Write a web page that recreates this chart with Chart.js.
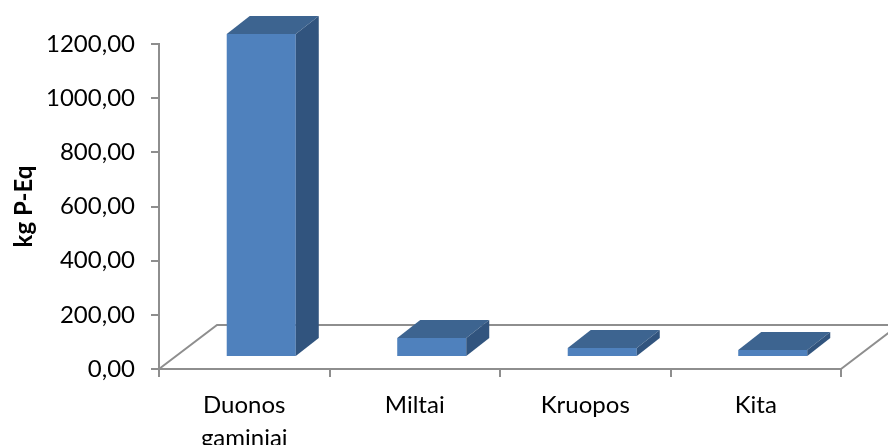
<!DOCTYPE html>
<html>
<head>
<meta charset="utf-8">
<style>
  html, body { margin: 0; padding: 0; background: #fff; }
  #wrap { width: 888px; height: 445px; overflow: hidden; }
</style>
</head>
<body>
<div id="wrap"><canvas id="chart" width="888" height="445"></canvas></div>
<script src="https://cdn.jsdelivr.net/npm/chart.js@4"></script>
<script>
const categories = [['Duonos', 'gaminiai'], 'Miltai', 'Kruopos', 'Kita'];
const values = [1193, 70, 33, 26];
const tickValues = [0, 200, 400, 600, 800, 1000, 1200];
const yTitle = 'kg P-Eq';

const AXIS_GREY = '#8e8e8e';
const FRONT = '#4f81bd';
const TOP = '#3d6490';
const SIDE = '#31547e';
const FONT = 'Lato, Carlito, Calibri, sans-serif';

// bars stand a little way in on the floor, depth goes up and to the right
const BAR_SHIFT = { x: 17, y: -12 };
const BAR_DEPTH = { x: 23, y: -18 };
const FLOOR_DEPTH = { x: 58, y: -44 };

function poly(ctx, pts, fill) {
  ctx.fillStyle = fill;
  ctx.beginPath();
  pts.forEach((p, i) => i ? ctx.lineTo(p[0], p[1]) : ctx.moveTo(p[0], p[1]));
  ctx.closePath();
  ctx.fill();
}

const pseudo3d = {
  id: 'pseudo3d',
  // floor outline, from the chart area
  beforeDatasetsDraw(chart) {
    const { ctx, chartArea: a, width } = chart;
    const y0 = chart.scales.y.getPixelForValue(0);
    ctx.save();
    ctx.strokeStyle = AXIS_GREY;
    ctx.lineWidth = 2;
    ctx.beginPath();
    ctx.moveTo(a.left, y0);
    ctx.lineTo(a.left + FLOOR_DEPTH.x, y0 + FLOOR_DEPTH.y);
    ctx.lineTo(width, y0 + FLOOR_DEPTH.y);
    ctx.moveTo(a.right, y0);
    ctx.lineTo(a.right + FLOOR_DEPTH.x, y0 + FLOOR_DEPTH.y);
    ctx.stroke();
    ctx.restore();
    ctx.save();
    ctx.translate(BAR_SHIFT.x, BAR_SHIFT.y);
  },
  afterDatasetsDraw(chart) {
    const { ctx } = chart;
    chart.getDatasetMeta(0).data.forEach(bar => {
      const l = bar.x - bar.width / 2;
      const r = bar.x + bar.width / 2;
      const t = bar.y;
      const b = bar.base;
      const dx = BAR_DEPTH.x, dy = BAR_DEPTH.y;
      poly(ctx, [[l, t], [r, t], [r + dx, t + dy], [l + dx, t + dy]], TOP);
      poly(ctx, [[r, t], [r + dx, t + dy], [r + dx, b + dy], [r, b]], SIDE);
    });
    ctx.restore();
  }
};

new Chart(document.getElementById('chart'), {
  type: 'bar',
  data: {
    labels: categories,
    datasets: [{
      data: values,
      backgroundColor: FRONT,
      borderWidth: 0,
      barPercentage: 0.405,
      categoryPercentage: 1,
      clip: false
    }]
  },
  plugins: [pseudo3d],
  options: {
    responsive: false,
    animation: false,
    layout: { padding: { top: 44, right: 47, left: 0, bottom: 0 } },
    plugins: { legend: { display: false }, tooltip: { enabled: false } },
    scales: {
      x: {
        afterFit(scale) { scale.height = 76; },
        border: { color: AXIS_GREY, width: 2 },
        grid: { color: AXIS_GREY, lineWidth: 2, drawOnChartArea: false, tickLength: 8 },
        ticks: {
          color: '#000',
          font: { family: FONT, size: 24, lineHeight: 1.38 },
          padding: 12,
          maxRotation: 0,
          autoSkip: false
        }
      },
      y: {
        min: 0,
        max: 1200,
        afterFit(scale) { scale.width = 159; },
        afterBuildTicks(scale) { scale.ticks = tickValues.map(v => ({ value: v })); },
        border: { color: AXIS_GREY, width: 2 },
        grid: { color: AXIS_GREY, lineWidth: 2, drawOnChartArea: false, tickLength: 8 },
        title: {
          display: true,
          text: yTitle,
          color: '#000',
          font: { family: FONT, size: 24, weight: 'bold' },
          padding: { top: 10, bottom: 0 }
        },
        ticks: {
          color: '#000',
          font: { family: FONT, size: 24 },
          padding: 16,
          callback: v => v.toFixed(2).replace('.', ',')
        }
      }
    }
  }
});
</script>
</body>
</html>
